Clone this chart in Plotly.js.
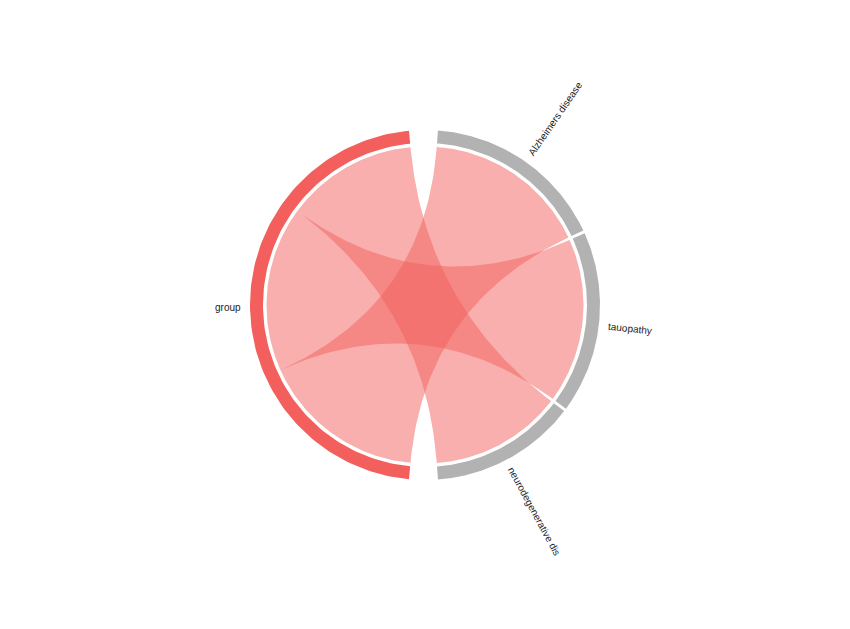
<!DOCTYPE html>
<html>
<head>
<meta charset="utf-8">
<script src="https://cdn.plot.ly/plotly-3.0.1.min.js"></script>
<style>html,body{margin:0;padding:0;background:#fff;}#chart{width:850px;height:629px;}</style>
</head>
<body>
<div id="chart"></div>
<script>
// ---- data ----
const sourceLabel = 'group';
const categories = ['Alzheimers disease', 'tauopathy', 'neurodegenerative dis'];
const values = [5, 5, 4];

// ---- styling / geometry ----
const W = 850, H = 629;
const CX = 425, CY = 305, PX = 175;   // centre and outer radius in px
const R_OUT = 1.0, R_IN = 162 / 175, R_RIB = 158.5 / 175, R_LAB = 184 / 175;
const GAP_BIG = 9.5, GAP_SMALL = 1;
const SRC_COLOR = '#f25f5c', TGT_COLOR = '#b2b2b2';
const RIB_COLOR = 'rgba(242,95,92,0.5)';
const FONT = 'Arial, "Liberation Sans", sans-serif';
const FSIZE = 10;
const LABEL_DROP = 2; // px, along the text's own vertical direction

const total = values.reduce((a, b) => a + b, 0);
const n = values.length;
const unit = (360 - 2 * GAP_BIG - (n - 1) * GAP_SMALL) / (2 * total);

function pt(r, deg) {
  const t = deg * Math.PI / 180;
  return [r * Math.sin(t), r * Math.cos(t)];
}
function arc(r, a0, a1, steps) {
  const out = [];
  steps = steps || 80;
  for (let i = 0; i <= steps; i++) out.push(pt(r, a0 + (a1 - a0) * i / steps));
  return out;
}
function bez(p, q, steps) {
  const out = [];
  steps = steps || 80;
  for (let i = 0; i <= steps; i++) {
    const t = i / steps;
    const a = (1 - t) * (1 - t), c = t * t;
    out.push([a * p[0] + c * q[0], a * p[1] + c * q[1]]);
  }
  return out;
}

// target segments (right side), centred on 90 deg
const tgtSpan = total * unit + (n - 1) * GAP_SMALL;
const tgt = [];
let a = 90 - tgtSpan / 2;
values.forEach(v => {
  tgt.push([a, a + v * unit]);
  a += v * unit + GAP_SMALL;
});
// source segment (left side), centred on 270 deg
const srcStart = 270 - total * unit / 2;
const srcEnd = 270 + total * unit / 2;
const src = [];
let s = srcStart;
values.forEach(v => { src.push([s, s + v * unit]); s += v * unit; });

const traces = [];
function polyTrace(pts, color) {
  traces.push({
    type: 'scatter', mode: 'lines',
    x: pts.map(p => p[0]), y: pts.map(p => p[1]),
    fill: 'toself', fillcolor: color,
    line: {width: 0, color: 'rgba(0,0,0,0)'},
    hoverinfo: 'skip', showlegend: false
  });
}

// ribbons
values.forEach((v, i) => {
  const [a0, a1] = src[i];
  const [b0, b1] = tgt[i];
  let pts = [];
  pts = pts.concat(arc(R_RIB, a0, a1));
  pts = pts.concat(bez(pt(R_RIB, a1), pt(R_RIB, b0)));
  pts = pts.concat(arc(R_RIB, b0, b1));
  pts = pts.concat(bez(pt(R_RIB, b1), pt(R_RIB, a0)));
  polyTrace(pts, RIB_COLOR);
});

// rings
function ring(a0, a1, color) {
  const pts = arc(R_OUT, a0, a1, 120).concat(arc(R_IN, a1, a0, 120));
  pts.push(pts[0]);
  polyTrace(pts, color);
}
ring(srcStart, srcEnd, SRC_COLOR);
tgt.forEach(t => ring(t[0], t[1], TGT_COLOR));

// labels
const cvs = document.createElement('canvas').getContext('2d');
cvs.font = FSIZE + 'px Arial, "Liberation Sans"';
function label(text, deg) {
  const w = cvs.measureText(text).width / PX;
  let ang = ((deg % 360) + 360) % 360;
  let textangle = ang < 180 ? ang - 90 : ang - 270;
  const c = pt(R_LAB + w / 2, ang);
  const ta = textangle * Math.PI / 180;
  // shift along the text's "down" direction (screen y down => data y up negative)
  const dx = -Math.sin(ta) * LABEL_DROP / PX;
  const dy = -Math.cos(ta) * LABEL_DROP / PX;
  return {
    x: c[0] + dx, y: c[1] + dy, xref: 'x', yref: 'y', text: text, showarrow: false,
    textangle: textangle, xanchor: 'center', yanchor: 'middle',
    font: {family: FONT, size: FSIZE, color: '#222'}
  };
}
const annotations = [label(sourceLabel, (srcStart + srcEnd) / 2)];
categories.forEach((c, i) => annotations.push(label(c, (tgt[i][0] + tgt[i][1]) / 2)));

const layout = {
  width: W, height: H,
  margin: {l: 0, r: 0, t: 0, b: 0},
  paper_bgcolor: '#fff', plot_bgcolor: '#fff',
  xaxis: {range: [-CX / PX, (W - CX) / PX], visible: false, fixedrange: true},
  yaxis: {range: [-(H - CY) / PX, CY / PX], visible: false, fixedrange: true},
  showlegend: false,
  annotations: annotations,
  hovermode: false
};
Plotly.newPlot('chart', traces, layout, {staticPlot: true, displayModeBar: false});
</script>
</body>
</html>
